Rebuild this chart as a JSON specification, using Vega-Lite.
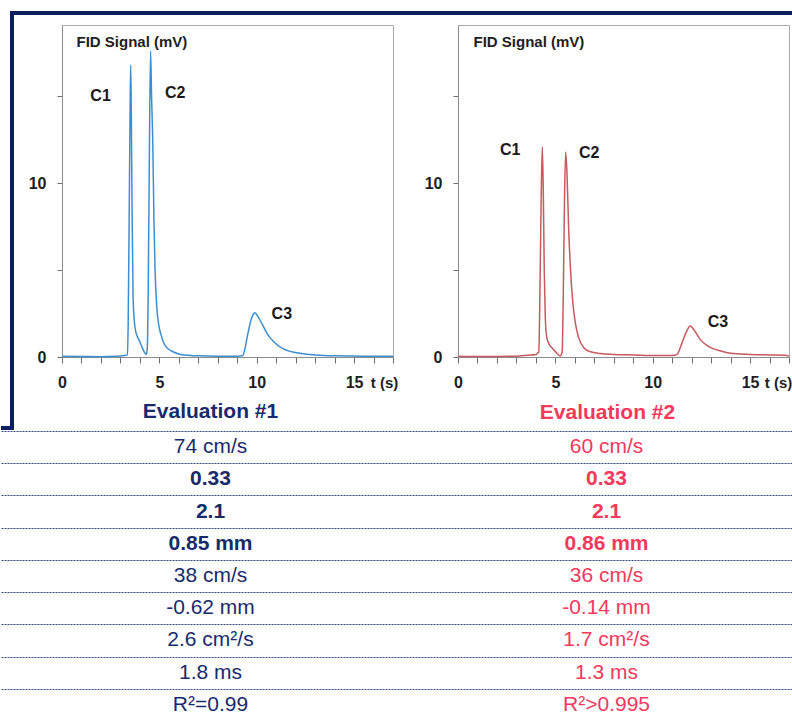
{
  "$schema": "https://vega.github.io/schema/vega-lite/v6.json",
  "background": "white",
  "padding": {"left": 0, "top": 10, "right": 0, "bottom": 0},
  "config": {
    "font": "Liberation Sans",
    "view": {"stroke": "#a9a9a9", "strokeWidth": 1},
    "axis": {
      "grid": false,
      "domainColor": "#8c8c8c",
      "tickColor": "#6e6e6e",
      "tickSize": 6,
      "labelFont": "Liberation Sans",
      "labelFontWeight": "bold",
      "labelFontSize": 16,
      "labelColor": "#1e1e1e",
      "labelFlush": false,
      "labelOverlap": false,
      "labelSeparation": 0,
      "titleFont": "Liberation Sans",
      "titleFontWeight": "bold",
      "titleFontSize": 15,
      "titleColor": "#1e1e1e"
    }
  },
  "datasets": {
    "eval1": [
      {"t": 0, "signal": 0.04}, {"t": 1, "signal": 0.03}, {"t": 2, "signal": 0.02}, {"t": 2.8, "signal": 0.04},
      {"t": 3.2, "signal": 0.08}, {"t": 3.36, "signal": 0.12}, {"t": 3.4, "signal": 2}, {"t": 3.45, "signal": 8},
      {"t": 3.5, "signal": 14.5}, {"t": 3.53, "signal": 16.8}, {"t": 3.56, "signal": 14}, {"t": 3.6, "signal": 8.5},
      {"t": 3.65, "signal": 3.5}, {"t": 3.72, "signal": 2}, {"t": 3.8, "signal": 1.4}, {"t": 3.95, "signal": 1.0},
      {"t": 4.1, "signal": 0.6}, {"t": 4.22, "signal": 0.3}, {"t": 4.32, "signal": 0.15}, {"t": 4.38, "signal": 0.5},
      {"t": 4.43, "signal": 4}, {"t": 4.49, "signal": 12}, {"t": 4.55, "signal": 17.6}, {"t": 4.6, "signal": 15},
      {"t": 4.66, "signal": 12.5}, {"t": 4.72, "signal": 8}, {"t": 4.78, "signal": 5}, {"t": 4.86, "signal": 3},
      {"t": 4.96, "signal": 1.9}, {"t": 5.08, "signal": 1.3}, {"t": 5.25, "signal": 0.75}, {"t": 5.42, "signal": 0.5},
      {"t": 5.7, "signal": 0.3}, {"t": 6.1, "signal": 0.15}, {"t": 7, "signal": 0.07}, {"t": 8, "signal": 0.05},
      {"t": 9, "signal": 0.05}, {"t": 9.28, "signal": 0.08}, {"t": 9.4, "signal": 0.5}, {"t": 9.54, "signal": 1.3},
      {"t": 9.7, "signal": 2.1}, {"t": 9.85, "signal": 2.5}, {"t": 9.92, "signal": 2.55}, {"t": 10.05, "signal": 2.35},
      {"t": 10.3, "signal": 1.85}, {"t": 10.56, "signal": 1.3}, {"t": 10.9, "signal": 0.85}, {"t": 11.4, "signal": 0.45},
      {"t": 12.3, "signal": 0.2}, {"t": 13, "signal": 0.12}, {"t": 14, "signal": 0.07}, {"t": 15.5, "signal": 0.05},
      {"t": 17, "signal": 0.05}
    ],
    "eval2": [
      {"t": 0, "signal": 0.04}, {"t": 1, "signal": 0.03}, {"t": 2, "signal": 0.03}, {"t": 3, "signal": 0.05},
      {"t": 3.6, "signal": 0.1}, {"t": 4.0, "signal": 0.15}, {"t": 4.15, "signal": 0.3}, {"t": 4.2, "signal": 3},
      {"t": 4.27, "signal": 9}, {"t": 4.33, "signal": 12.1}, {"t": 4.38, "signal": 9.5}, {"t": 4.43, "signal": 5},
      {"t": 4.48, "signal": 2.4}, {"t": 4.55, "signal": 1.2}, {"t": 4.65, "signal": 0.8}, {"t": 4.85, "signal": 0.5},
      {"t": 5.05, "signal": 0.25}, {"t": 5.25, "signal": 0.06}, {"t": 5.35, "signal": 0.3}, {"t": 5.4, "signal": 3},
      {"t": 5.47, "signal": 9}, {"t": 5.53, "signal": 11.8}, {"t": 5.6, "signal": 10.5}, {"t": 5.68, "signal": 7.5},
      {"t": 5.78, "signal": 5}, {"t": 5.9, "signal": 3.1}, {"t": 6.05, "signal": 1.8}, {"t": 6.2, "signal": 1.1},
      {"t": 6.45, "signal": 0.55}, {"t": 6.8, "signal": 0.3}, {"t": 7.3, "signal": 0.2}, {"t": 8, "signal": 0.15},
      {"t": 9, "signal": 0.12}, {"t": 10, "signal": 0.08}, {"t": 11, "signal": 0.08}, {"t": 11.25, "signal": 0.15},
      {"t": 11.5, "signal": 0.8}, {"t": 11.75, "signal": 1.5}, {"t": 11.93, "signal": 1.78}, {"t": 12.1, "signal": 1.6},
      {"t": 12.45, "signal": 1.0}, {"t": 12.8, "signal": 0.65}, {"t": 13.1, "signal": 0.48}, {"t": 13.5, "signal": 0.35},
      {"t": 14, "signal": 0.22}, {"t": 15, "signal": 0.15}, {"t": 16, "signal": 0.12}, {"t": 16.8, "signal": 0.1},
      {"t": 17, "signal": 0.05}
    ],
    "peaks1": [
      {"label": "C1", "t": 1.98, "signal": 14.73},
      {"label": "C2", "t": 5.81, "signal": 14.92},
      {"label": "C3", "t": 11.29, "signal": 2.17}
    ],
    "peaks2": [
      {"label": "C1", "t": 2.68, "signal": 11.62},
      {"label": "C2", "t": 6.74, "signal": 11.43},
      {"label": "C3", "t": 13.35, "signal": 1.74}
    ],
    "table": [
      {"row": 1, "eval": "Evaluation #1", "value": "74 cm/s"}, {"row": 1, "eval": "Evaluation #2", "value": "60 cm/s"},
      {"row": 2, "eval": "Evaluation #1", "value": "0.33"}, {"row": 2, "eval": "Evaluation #2", "value": "0.33"},
      {"row": 3, "eval": "Evaluation #1", "value": "2.1"}, {"row": 3, "eval": "Evaluation #2", "value": "2.1"},
      {"row": 4, "eval": "Evaluation #1", "value": "0.85 mm"}, {"row": 4, "eval": "Evaluation #2", "value": "0.86 mm"},
      {"row": 5, "eval": "Evaluation #1", "value": "38 cm/s"}, {"row": 5, "eval": "Evaluation #2", "value": "36 cm/s"},
      {"row": 6, "eval": "Evaluation #1", "value": "-0.62 mm"}, {"row": 6, "eval": "Evaluation #2", "value": "-0.14 mm"},
      {"row": 7, "eval": "Evaluation #1", "value": "2.6 cm²/s"}, {"row": 7, "eval": "Evaluation #2", "value": "1.7 cm²/s"},
      {"row": 8, "eval": "Evaluation #1", "value": "1.8 ms"}, {"row": 8, "eval": "Evaluation #2", "value": "1.3 ms"},
      {"row": 9, "eval": "Evaluation #1", "value": "R²=0.99"}, {"row": 9, "eval": "Evaluation #2", "value": "R²>0.995"}
    ]
  },
  "spacing": 0,
  "vconcat": [
    {
      "spacing": 60,
      "bounds": "flush",
      "hconcat": [
        {
          "width": 1,
          "height": 1,
          "view": {"stroke": null},
          "data": {"values": [{}]},
          "mark": {"type": "point", "opacity": 0, "size": 1}
        },
        {
          "spacing": 65,
          "bounds": "flush",
          "hconcat": [
            {
              "width": 331,
              "height": 332,
              "title": {"text": "Evaluation #1", "orient": "bottom", "frame": "group", "anchor": "middle", "dx": -17, "offset": -29, "font": "Liberation Sans", "fontSize": 21, "fontWeight": "bold", "color": "#172b6c"},
              "layer": [
                {
                  "data": {"name": "eval1"},
                  "mark": {"type": "line", "color": "#3d8ed1", "strokeWidth": 1.5, "interpolate": "monotone"},
                  "encoding": {
                    "x": {"field": "t", "type": "quantitative", "scale": {"domain": [0, 17], "nice": false, "zero": false},
                      "axis": {"values": [0,1,2,3,4,5,6,7,8,9,10,11,12,13,14,15,16,17], "tickCount": 30, "format": "d", "labelExpr": "(datum.value == 0 || datum.value == 5 || datum.value == 10 || datum.value == 15) ? datum.label : ''", "labelOverlap": false, "labelPadding": 11, "title": "t (s)", "titleX": 322, "titleY": 30, "titleAlign": "center", "titleBaseline": "alphabetic"}},
                    "y": {"field": "signal", "type": "quantitative", "scale": {"domain": [0, 19.1], "nice": false, "zero": false},
                      "axis": {"values": [0, 5, 10, 15], "tickCount": 10, "format": "d", "labelExpr": "(datum.value == 0 || datum.value == 10) ? datum.label : ''", "labelOverlap": false, "labelPadding": 11, "tickSize": 5, "title": "FID Signal (mV)", "titleAngle": 0, "titleX": 14, "titleY": 21, "titleAlign": "left", "titleBaseline": "alphabetic", "titleFontSize": 15}}
                  }
                },
                {
                  "data": {"name": "peaks1"},
                  "mark": {"type": "text", "font": "Liberation Sans", "fontWeight": "bold", "fontSize": 16, "color": "#1a1a1a", "baseline": "alphabetic"},
                  "encoding": {
                    "x": {"field": "t", "type": "quantitative"},
                    "y": {"field": "signal", "type": "quantitative"},
                    "text": {"field": "label"}
                  }
                },
                {
                  "data": {"values": [{}]},
                  "mark": {"type": "rect", "color": "#0c1f5e"},
                  "encoding": {"x": {"datum": -2.671, "type": "quantitative"}, "x2": {"datum": -2.465}, "y": {"datum": -4.2, "type": "quantitative"}, "y2": {"datum": 19.905}}
                },
                {
                  "data": {"values": [{}]},
                  "mark": {"type": "rect", "color": "#0c1f5e"},
                  "encoding": {"x": {"datum": -2.671, "type": "quantitative"}, "x2": {"datum": 37.54}, "y": {"datum": 19.675, "type": "quantitative"}, "y2": {"datum": 19.905}}
                },
                {
                  "data": {"values": [{}]},
                  "mark": {"type": "rect", "color": "#0c1f5e"},
                  "encoding": {"x": {"datum": -3.133, "type": "quantitative"}, "x2": {"datum": -2.465}, "y": {"datum": -4.2, "type": "quantitative"}, "y2": {"datum": -3.97}}
                }
              ]
            },
            {
              "width": 331,
              "height": 332,
              "title": {"text": "Evaluation #2", "orient": "bottom", "frame": "group", "anchor": "middle", "dx": -16, "offset": 12, "font": "Liberation Sans", "fontSize": 21, "fontWeight": "bold", "color": "#f4395b"},
              "layer": [
                {
                  "data": {"name": "eval2"},
                  "mark": {"type": "line", "color": "#c65a5c", "strokeWidth": 1.5, "interpolate": "monotone"},
                  "encoding": {
                    "x": {"field": "t", "type": "quantitative", "scale": {"domain": [0, 17], "nice": false, "zero": false},
                      "axis": {"values": [0,1,2,3,4,5,6,7,8,9,10,11,12,13,14,15,16,17], "tickCount": 30, "format": "d", "labelExpr": "(datum.value == 0 || datum.value == 5 || datum.value == 10 || datum.value == 15) ? datum.label : ''", "labelOverlap": false, "labelPadding": 11, "title": "t (s)", "titleX": 320, "titleY": 30, "titleAlign": "center", "titleBaseline": "alphabetic"}},
                    "y": {"field": "signal", "type": "quantitative", "scale": {"domain": [0, 19.1], "nice": false, "zero": false},
                      "axis": {"values": [0, 5, 10, 15], "tickCount": 10, "format": "d", "labelExpr": "(datum.value == 0 || datum.value == 10) ? datum.label : ''", "labelOverlap": false, "labelPadding": 11, "tickSize": 5, "title": "FID Signal (mV)", "titleAngle": 0, "titleX": 15, "titleY": 21, "titleAlign": "left", "titleBaseline": "alphabetic", "titleFontSize": 15}}
                  }
                },
                {
                  "data": {"name": "peaks2"},
                  "mark": {"type": "text", "font": "Liberation Sans", "fontWeight": "bold", "fontSize": 16, "color": "#1a1a1a", "baseline": "alphabetic"},
                  "encoding": {
                    "x": {"field": "t", "type": "quantitative"},
                    "y": {"field": "signal", "type": "quantitative"},
                    "text": {"field": "label"}
                  }
                }
              ]
            }
          ]
        }
      ]
    },
    {
      "width": 792,
      "height": 285,
      "view": {"stroke": null},
      "data": {"name": "table"},
      "encoding": {
        "x": {"field": "eval", "type": "nominal", "scale": {"paddingInner": 0, "paddingOuter": 0}, "axis": null},
        "y": {"field": "row", "type": "quantitative", "scale": {"domain": [0.5, 9.345], "reverse": true, "nice": false, "zero": false},
          "axis": {"values": [0.5, 1.5, 2.5, 3.5, 4.5, 5.5, 6.5, 7.5, 8.5], "tickCount": 20, "grid": true, "gridColor": "#34477f", "gridDash": [2, 1], "gridWidth": 1.2, "labels": false, "ticks": false, "domain": false, "title": null}},
        "text": {"field": "value"},
        "color": {"field": "eval", "type": "nominal", "scale": {"domain": ["Evaluation #1", "Evaluation #2"], "range": ["#172b6c", "#f4395b"]}, "legend": null}
      },
      "layer": [
        {"transform": [{"filter": {"not": {"field": "row", "oneOf": [2, 3, 4]}}}], "mark": {"type": "text", "fontSize": 21, "dx": 11.5}},
        {"transform": [{"filter": {"field": "row", "oneOf": [2, 3, 4]}}], "mark": {"type": "text", "fontSize": 21, "fontWeight": "bold", "dx": 11.5}}
      ]
    }
  ]
}
